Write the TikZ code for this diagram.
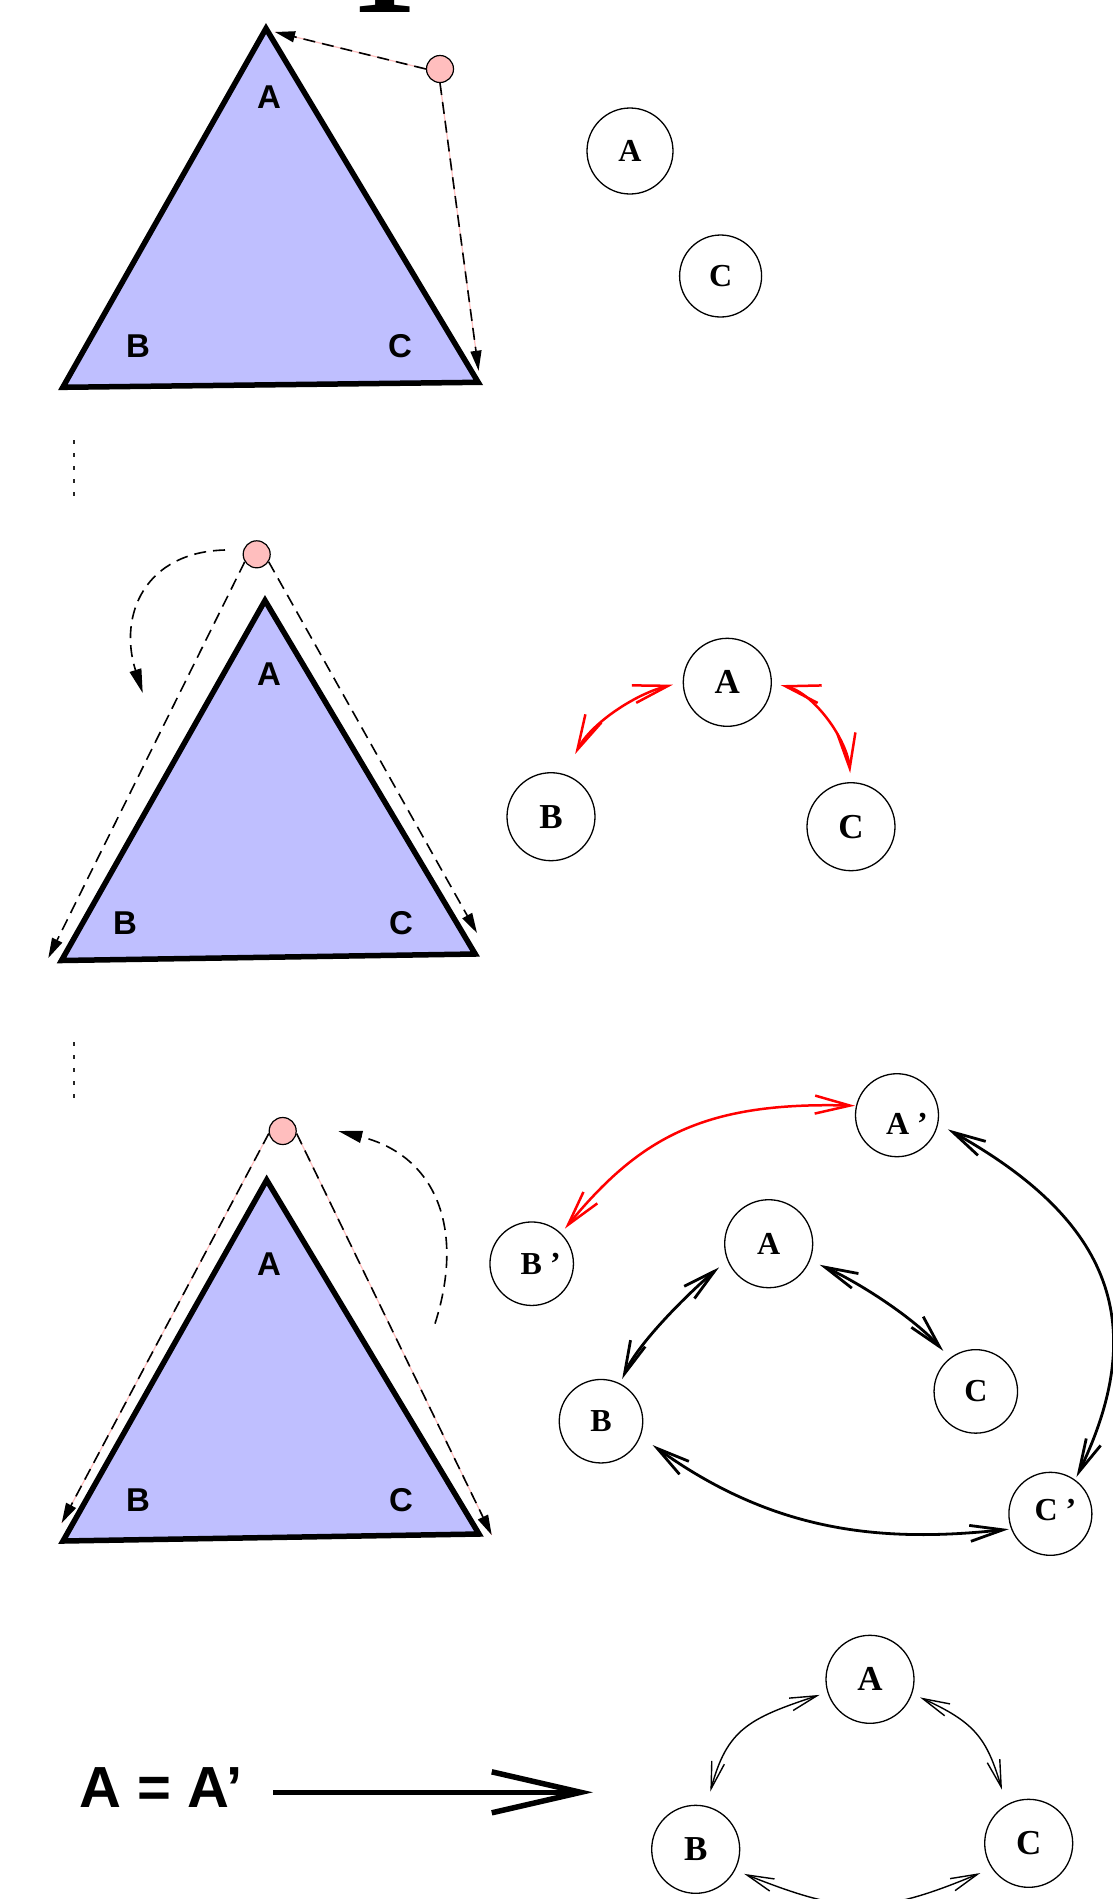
\documentclass[tikz,border=0pt]{standalone}
\usepackage{fontspec}
\setmainfont{Liberation Serif}
\newfontfamily\hvfont{Liberation Sans}
\usetikzlibrary{arrows.meta}
\definecolor{trifill}{RGB}{191,191,255}
\definecolor{pinkc}{RGB}{255,190,190}
\begin{document}
\begin{tikzpicture}[x=1pt,y=-1pt,
  tri/.style={draw=black,fill=trifill,line width=5.5pt,line join=miter},
  trilab/.style={inner sep=0pt,font=\hvfont\bfseries\fontsize{33}{36}\selectfont},
  ball/.style={circle,draw=black,fill=pinkc,line width=1.2pt,minimum size=27pt,inner sep=0pt},
  dsh/.style={black,line width=1.6pt,dash pattern=on 12pt off 7pt,-{Triangle[length=20pt,width=11pt]}},
  dshc/.style={black,line width=1.6pt,dash pattern=on 12pt off 7pt,-{Triangle[length=24pt,width=12pt]}},
  pinkunder/.style={pinkc,line width=1.2pt},
  dots/.style={black!85,line width=2pt,dash pattern=on 3.5pt off 9.5pt},
  gnode/.style={circle,draw=black,line width=1.3pt,inner sep=0pt,font=\bfseries\fontsize{32}{34}\selectfont},
  gbig/.style={gnode,minimum size=88pt,font=\bfseries\fontsize{35}{38}\selectfont},
  glab/.style={inner sep=0pt,font=\bfseries\fontsize{32}{34}\selectfont},
  redarr/.style={red,line width=2.5pt,{Straight Barb[length=35pt,width=18pt]}-{Straight Barb[length=35pt,width=18pt]}},
  blkarr/.style={black,line width=2.8pt,{Straight Barb[length=33pt,width=16pt]}-{Straight Barb[length=33pt,width=16pt]}},
  thinarr/.style={black,line width=1.4pt,{Straight Barb[length=27pt,width=13pt]}-{Straight Barb[length=27pt,width=13pt]}},
  bigarr/.style={black,line width=5.5pt,-{Straight Barb[length=89pt,width=41pt]}}
]
\useasboundingbox (0,0) rectangle (1113,1899);

% cropped big glyph at the top
\node[font=\bfseries\fontsize{135}{135}\selectfont,anchor=base,inner sep=0pt] (numone) at (383.7,12.7) {1};

% ---------------- panel 1 ----------------
\coordinate (t1a) at (266,28.5);
\coordinate (t1b) at (62.8,387.3);
\coordinate (t1c) at (478.2,382.3);
\filldraw[tri] (t1a) -- (t1b) -- (t1c) -- cycle;
\node[trilab] (t1A) at (269,97) {A};
\node[trilab] (t1B) at (138,346) {B};
\node[trilab] (t1C) at (400,346) {C};
\node[ball] (p1) at (440,69) {};
\coordinate (p1ta) at (275,32);
\coordinate (p1tc) at (478.6,370.7);
\draw[pinkunder] (p1.west) -- (p1ta);
\draw[dsh] (p1.west) -- (p1ta);
\draw[pinkunder] (p1.south) -- (p1tc);
\draw[dsh] (p1.south) -- (p1tc);
\node[gnode,minimum size=86pt] (g1A) at (630,151) {A};
\node[gnode,minimum size=82pt] (g1C) at (720.6,276) {C};

\coordinate (d1s) at (73.5,440.2);
\coordinate (d1e) at (73.5,497);
\draw[dots] (d1s) -- (d1e);

% ---------------- panel 2 ----------------
\coordinate (t2a) at (265,600.5);
\coordinate (t2b) at (61.5,960.5);
\coordinate (t2c) at (475.2,954);
\filldraw[tri] (t2a) -- (t2b) -- (t2c) -- cycle;
\node[trilab] (t2A) at (269,674) {A};
\node[trilab] (t2B) at (125,923) {B};
\node[trilab] (t2C) at (401,923) {C};
\node[ball] (p2) at (256.7,554.3) {};
\coordinate (p2tb) at (48.3,958);
\coordinate (p2tc) at (477,933);
\draw[dsh] (p2.212) -- (p2tb);
\draw[dsh] (p2.328) -- (p2tc);
\coordinate (c2s) at (225,550);
\coordinate (c2e) at (142.7,693);
\draw[dshc] (c2s) .. controls (145,552) and (118,615) .. (c2e);

\node[gbig] (g2A) at (727.3,682.3) {A};
\node[gbig] (g2B) at (551,816.7) {B};
\node[gbig] (g2C) at (851,826.7) {C};
\draw[redarr,shorten <=10pt,shorten >=22.7pt] (g2A.180) .. controls (634.9,693.9) and (590.6,723.9) .. (g2B.72);
\draw[redarr,shorten <=9pt,shorten >=9pt] (g2A.-1) .. controls (813.7,692.8) and (847,739.2) .. (g2C.90);

\coordinate (d2s) at (73.5,1042.2);
\coordinate (d2e) at (73.5,1099);
\draw[dots] (d2s) -- (d2e);

% ---------------- panel 3 ----------------
\coordinate (t3a) at (266.7,1180);
\coordinate (t3b) at (63,1541);
\coordinate (t3c) at (479,1534);
\filldraw[tri] (t3a) -- (t3b) -- (t3c) -- cycle;
\node[trilab] (t3A) at (269,1264) {A};
\node[trilab] (t3B) at (138,1500) {B};
\node[trilab] (t3C) at (401,1500) {C};
\node[ball] (p3) at (282.7,1131) {};
\coordinate (p3tb) at (61.7,1523);
\coordinate (p3tc) at (491.7,1535);
\draw[pinkunder] (p3.190) -- (p3tb);
\draw[dsh] (p3.190) -- (p3tb);
\draw[pinkunder] (p3.-10) -- (p3tc);
\draw[dsh] (p3.-10) -- (p3tc);
\coordinate (c3s) at (435,1323.6);
\coordinate (c3e) at (338.3,1131);
\draw[dshc] (c3s) .. controls (465,1230) and (437,1156) .. (c3e);

\node[gnode,minimum size=83pt] (Ap) at (897,1115.2) {};
\node[gnode,minimum size=83.5pt] (Bp) at (531.7,1263.7) {};
\node[gnode,minimum size=88pt] (A3) at (768.7,1243.7) {A};
\node[gnode,minimum size=83.5pt] (B3) at (601,1421.2) {B};
\node[gnode,minimum size=83.5pt] (C3) at (975.8,1391.4) {C};
\node[gnode,minimum size=83pt] (Cp) at (1050.4,1513.8) {};
\node[glab] (ApL) at ([xshift=10pt,yshift=-8.5pt]Ap.center) {A ’};
\node[glab] (BpL) at ([xshift=9pt]Bp.center) {B ’};
\node[glab] (CpL) at ([xshift=5pt,yshift=4pt]Cp.center) {C ’};

\draw[redarr,shorten <=6pt,shorten >=1pt] (Bp.46) .. controls (640.6,1136.6) and (705,1101.5) .. (Ap.167);
\draw[blkarr,shorten <=11pt,shorten >=3pt] (Ap.-12) .. controls (1102.8,1216) and (1154.4,1316) .. (Cp.54);
\draw[blkarr,shorten <=10.5pt,shorten >=9.5pt] (A3.-22.7) .. controls (860,1283) and (913.7,1318) .. (C3.128);
\draw[blkarr,shorten <=10.7pt,shorten >=4.8pt] (A3.202.6) .. controls (689.4,1292.3) and (638.1,1342.8) .. (B3.63);
\draw[blkarr,shorten <=14.8pt,shorten >=2.3pt] (B3.-21.8) .. controls (773.6,1532.2) and (881,1543) .. (Cp.201.7);

% ---------------- panel 4 ----------------
\node[inner sep=0pt,font=\hvfont\bfseries\fontsize{58}{60}\selectfont] (eq) at (161,1787.5) {A = A’};
\coordinate (bas) at (273,1792.3);
\coordinate (bae) at (593,1792.3);
\draw[bigarr] (bas) -- (bae);

\node[gbig] (A4) at (870,1679.3) {A};
\node[gbig] (B4) at (695.7,1849.3) {B};
\node[gbig] (C4) at (1028.7,1843.3) {C};
\draw[thinarr,shorten <=8.1pt,shorten >=15pt] (A4.197.4) .. controls (748.75,1718.25) and (726.9,1729.3) .. (B4.76.7);
\draw[thinarr,shorten <=8.6pt,shorten >=15.6pt] (A4.-19.2) .. controls (974.4,1722.1) and (986.75,1737.8) .. (C4.120.5);
\draw[thinarr,shorten <=9.8pt,shorten >=12.4pt] (B4.-28.4) .. controls (846.7,1914.6) and (878.6,1915.5) .. (C4.214);
\end{tikzpicture}
\end{document}
